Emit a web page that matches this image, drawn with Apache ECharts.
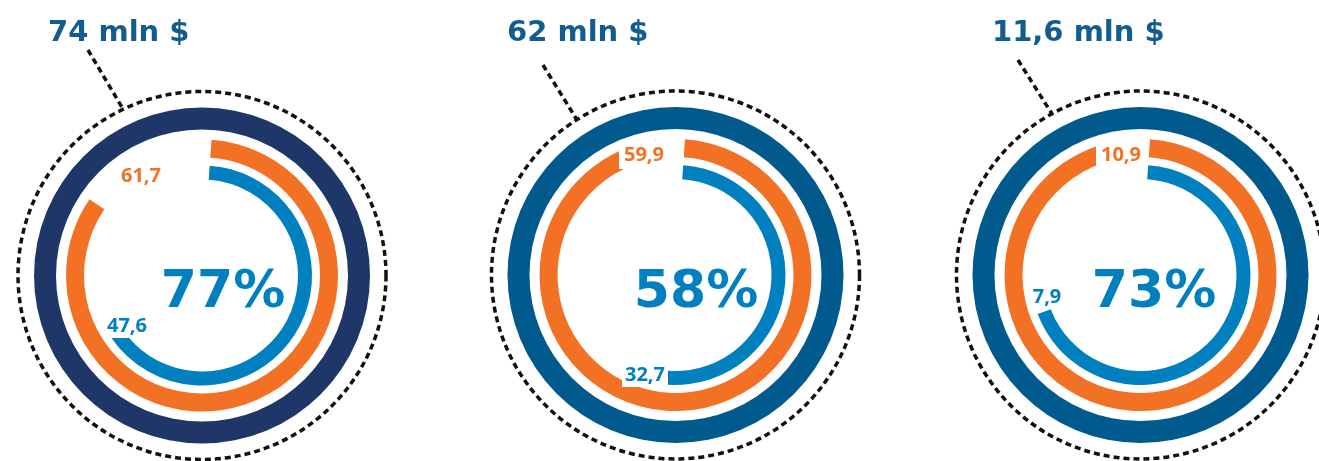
<!DOCTYPE html>
<html>
<head>
<meta charset="utf-8">
<script src="https://cdn.jsdelivr.net/npm/echarts@6/dist/echarts.min.js"></script>
<style>
  html, body { margin: 0; padding: 0; background: #ffffff; }
  #chart { width: 1319px; height: 461px; }
</style>
</head>
<body>
<div id="chart"></div>
<script>
// ---- data ----
const totals = [74, 62, 11.6];            // mln $
const orangeValues = [61.7, 59.9, 10.9];
const blueValues = [47.6, 32.7, 7.9];
const shareLabels = ['77%', '58%', '73%'];
const unitLabel = 'mln $';

// ---- layout / style ----
const centers = [[202, 275.5], [675.5, 275], [1140.5, 275]];
const ringColors = ['#1e3668', '#005a8d', '#005a8d'];
const orangeColor = '#f37124';
const blueColor = '#0180bf';
const titleColor = '#125c8f';
const titlePos = [[48, 33], [507, 33], [992, 33]];
const leaders = [[[88, 50], [123, 109]], [[543, 65], [577, 120]], [[1018, 60], [1052, 114]]];
const sharePos = [[223, 293], [696, 293], [1154, 293]];
const orangeLabelPos = [[141, 176], [644, 155], [1121, 155]];
const blueLabelPos = [[127, 326], [645, 375], [1047, 297]];

const fmt = v => String(v).replace('.', ',');

const chart = echarts.init(document.getElementById('chart'), null, { renderer: 'canvas' });

const series = [];
const graphic = [];

totals.forEach((total, i) => {
  const c = centers[i];
  const base = {
    type: 'pie', center: c, silent: true, animation: false,
    label: { show: false }, labelLine: { show: false },
    emphasis: { disabled: true }, clockwise: true, z: 2
  };
  series.push(Object.assign({}, base, {
    radius: [146, 168], startAngle: 90,
    data: [{ value: total, itemStyle: { color: ringColors[i] } }]
  }));
  series.push(Object.assign({}, base, {
    radius: [118, 136], startAngle: 86,
    data: [
      { value: orangeValues[i], itemStyle: { color: orangeColor } },
      { value: total - orangeValues[i], itemStyle: { color: 'rgba(0,0,0,0)' } }
    ]
  }));
  series.push(Object.assign({}, base, {
    radius: [96, 110], startAngle: 86,
    data: [
      { value: blueValues[i], itemStyle: { color: blueColor } },
      { value: total - blueValues[i], itemStyle: { color: 'rgba(0,0,0,0)' } }
    ]
  }));

  // dotted outer circle
  graphic.push({
    type: 'circle', silent: true, z: 1,
    shape: { cx: c[0], cy: c[1], r: 184 },
    style: { fill: null, stroke: '#111', lineWidth: 3.5, lineDash: [6, 4] }
  });
  // dotted leader line
  const l = leaders[i];
  graphic.push({
    type: 'line', silent: true, z: 1,
    shape: { x1: l[0][0], y1: l[0][1], x2: l[1][0], y2: l[1][1] },
    style: { stroke: '#111', lineWidth: 3.5, lineDash: [6, 4] }
  });
  // title
  graphic.push({
    type: 'text', silent: true, z: 100, x: titlePos[i][0], y: titlePos[i][1],
    style: {
      text: fmt(total) + ' ' + unitLabel,
      font: 'bold 29px "DejaVu Sans", sans-serif',
      fill: titleColor, align: 'left', verticalAlign: 'middle'
    }
  });
  // center share
  graphic.push({
    type: 'text', silent: true, z: 100, x: sharePos[i][0], y: sharePos[i][1],
    style: {
      text: shareLabels[i],
      font: 'bold 52px "DejaVu Sans", sans-serif',
      fill: blueColor, align: 'center', verticalAlign: 'middle'
    }
  });
  // value labels (white knockout behind the text)
  graphic.push({
    type: 'text', silent: true, z: 100, x: orangeLabelPos[i][0], y: orangeLabelPos[i][1],
    style: {
      text: fmt(orangeValues[i]),
      font: 'bold 20px "Open Sans", sans-serif',
      fill: orangeColor, align: 'center', verticalAlign: 'middle',
      backgroundColor: '#ffffff', padding: [6, 5, 2, 5]
    }
  });
  graphic.push({
    type: 'text', silent: true, z: 100, x: blueLabelPos[i][0], y: blueLabelPos[i][1],
    style: {
      text: fmt(blueValues[i]),
      font: 'bold 20px "Open Sans", sans-serif',
      fill: blueColor, align: 'center', verticalAlign: 'middle',
      backgroundColor: '#ffffff', padding: [2, 3]
    }
  });
});

chart.setOption({
  backgroundColor: '#ffffff',
  animation: false,
  series: series,
  graphic: graphic
});
</script>
</body>
</html>
